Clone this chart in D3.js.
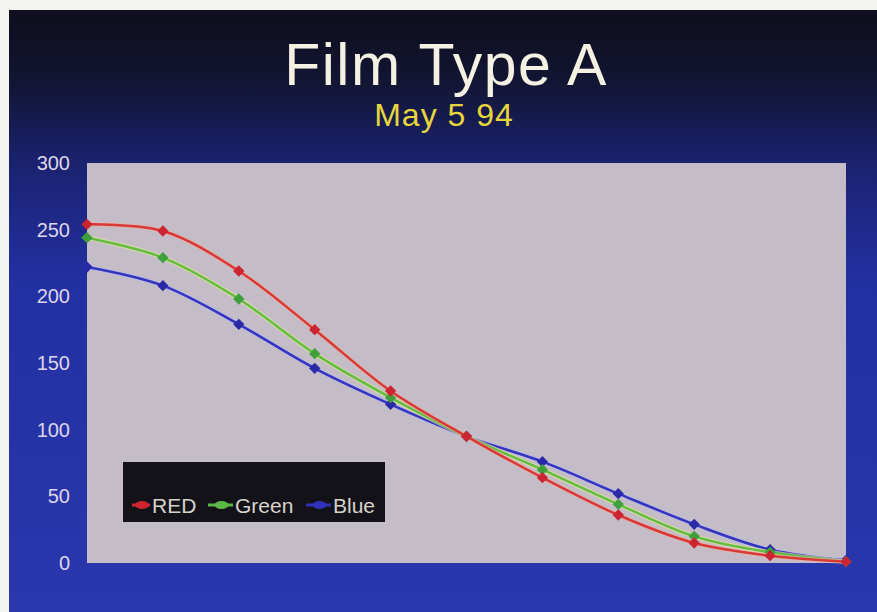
<!DOCTYPE html>
<html><head><meta charset="utf-8">
<script src="https://cdn.jsdelivr.net/npm/d3@7"></script>
<style>html,body{margin:0;padding:0;background:#f4f4f0;}svg{display:block;}</style>
</head><body>
<script>
const points = [1,2,3,4,5,6,7,8,9,10,11];
const redValues   = [254, 249, 219, 175, 129, 95, 64, 36, 15, 5.5, 1];
const greenValues = [244, 229, 198, 157, 124, 95, 70, 44, 20, 8, 1];
const blueValues  = [222, 208, 179, 146, 119, 95, 76, 52, 29, 10, 2];
const yTicks = [0, 50, 100, 150, 200, 250, 300];
const seriesNames = ["RED", "Green", "Blue"];

const W = 877, H = 612;
const svg = d3.select("body").append("svg").attr("width", W).attr("height", H);
const defs = svg.append("defs");
const grad = defs.append("linearGradient").attr("id","bg").attr("x1",0).attr("y1",0).attr("x2",0).attr("y2",1);
grad.append("stop").attr("offset","0%").attr("stop-color","#0e0e1c");
grad.append("stop").attr("offset","12%").attr("stop-color","#121533");
grad.append("stop").attr("offset","25%").attr("stop-color","#1a226e");
grad.append("stop").attr("offset","45%").attr("stop-color","#2330a2");
grad.append("stop").attr("offset","100%").attr("stop-color","#2a37ad");

svg.append("rect").attr("x",9).attr("y",10).attr("width",W-9).attr("height",H-10).attr("fill","url(#bg)");

const x = d3.scalePoint().domain(points).range([87, 846]);
const y = d3.scaleLinear().domain([0, 300]).range([563, 163]);

svg.append("rect").attr("x",87).attr("y",163).attr("width",846-87).attr("height",563-163).attr("fill","#c4bdc7");

// title
svg.append("text").attr("x",446).attr("y",85).attr("text-anchor","middle")
  .attr("font-family","Liberation Sans, Arial, sans-serif").attr("font-size",59)
  .attr("letter-spacing",1.5)
  .attr("fill","#f4f0e2").text("Film Type A");
svg.append("text").attr("x",444).attr("y",126).attr("text-anchor","middle")
  .attr("font-family","Liberation Sans, Arial, sans-serif").attr("font-size",32)
  .attr("letter-spacing",1)
  .attr("fill","#e6d63c").text("May 5 94");

// y axis
const yAxis = d3.axisLeft(y).tickValues(yTicks).tickSize(0).tickPadding(17);
const ga = svg.append("g").attr("transform","translate(87,0)").call(yAxis);
ga.select(".domain").remove();
ga.selectAll("text").attr("font-family","Liberation Sans, Arial, sans-serif")
  .attr("font-size",20).attr("fill","#dcd6ea");

const series = [
  {name: seriesNames[2], values: blueValues, line:"#3434c0", mark:"#2a2aa8", halo:"#b8b8f0"},
  {name: seriesNames[1], values: greenValues, line:"#66bb44", mark:"#3f9f3c", halo:"#e2f08a"},
  {name: seriesNames[0], values: redValues, line:"#d83838", mark:"#cc2430", halo:"#f0b0a0"}
];

const line = d3.line().x((d,i)=>x(points[i])).y(d=>y(d)).curve(d3.curveCatmullRom.alpha(0.5));

series.forEach(s => {
  const g = svg.append("g");
  g.append("path").attr("d", line(s.values)).attr("fill","none")
    .attr("stroke", s.halo).attr("stroke-width",4.5).attr("opacity",0.6);
  g.append("path").attr("d", line(s.values)).attr("fill","none")
    .attr("stroke", s.line).attr("stroke-width",2.5);
  g.selectAll("rect").data(s.values).join("rect")
    .attr("x",(d,i)=>x(points[i])-4).attr("y",d=>y(d)-4)
    .attr("width",8).attr("height",8)
    .attr("transform",(d,i)=>`rotate(45,${x(points[i])},${y(d)})`)
    .attr("fill", s.mark);
});

// legend
const lg = svg.append("g");
lg.append("rect").attr("x",123).attr("y",462).attr("width",262).attr("height",60).attr("fill","#121218");
const legItems = [
  {name: seriesNames[0], color:"#cc2430", lx:132, tx:152},
  {name: seriesNames[1], color:"#5cb848", lx:208, tx:235},
  {name: seriesNames[2], color:"#3030b8", lx:306, tx:333}
];
legItems.forEach(it => {
  lg.append("line").attr("x1",it.lx).attr("x2",it.tx-2).attr("y1",505).attr("y2",505)
    .attr("stroke",it.color).attr("stroke-width",3);
  lg.append("ellipse").attr("cx",(it.lx+it.tx)/2).attr("cy",505).attr("rx",7).attr("ry",4).attr("fill",it.color);
  lg.append("text").attr("x",it.tx).attr("y",513).attr("font-family","Liberation Sans, Arial, sans-serif")
    .attr("font-size",21).attr("fill","#d8d4cc").text(it.name);
});
</script>
</body></html>
